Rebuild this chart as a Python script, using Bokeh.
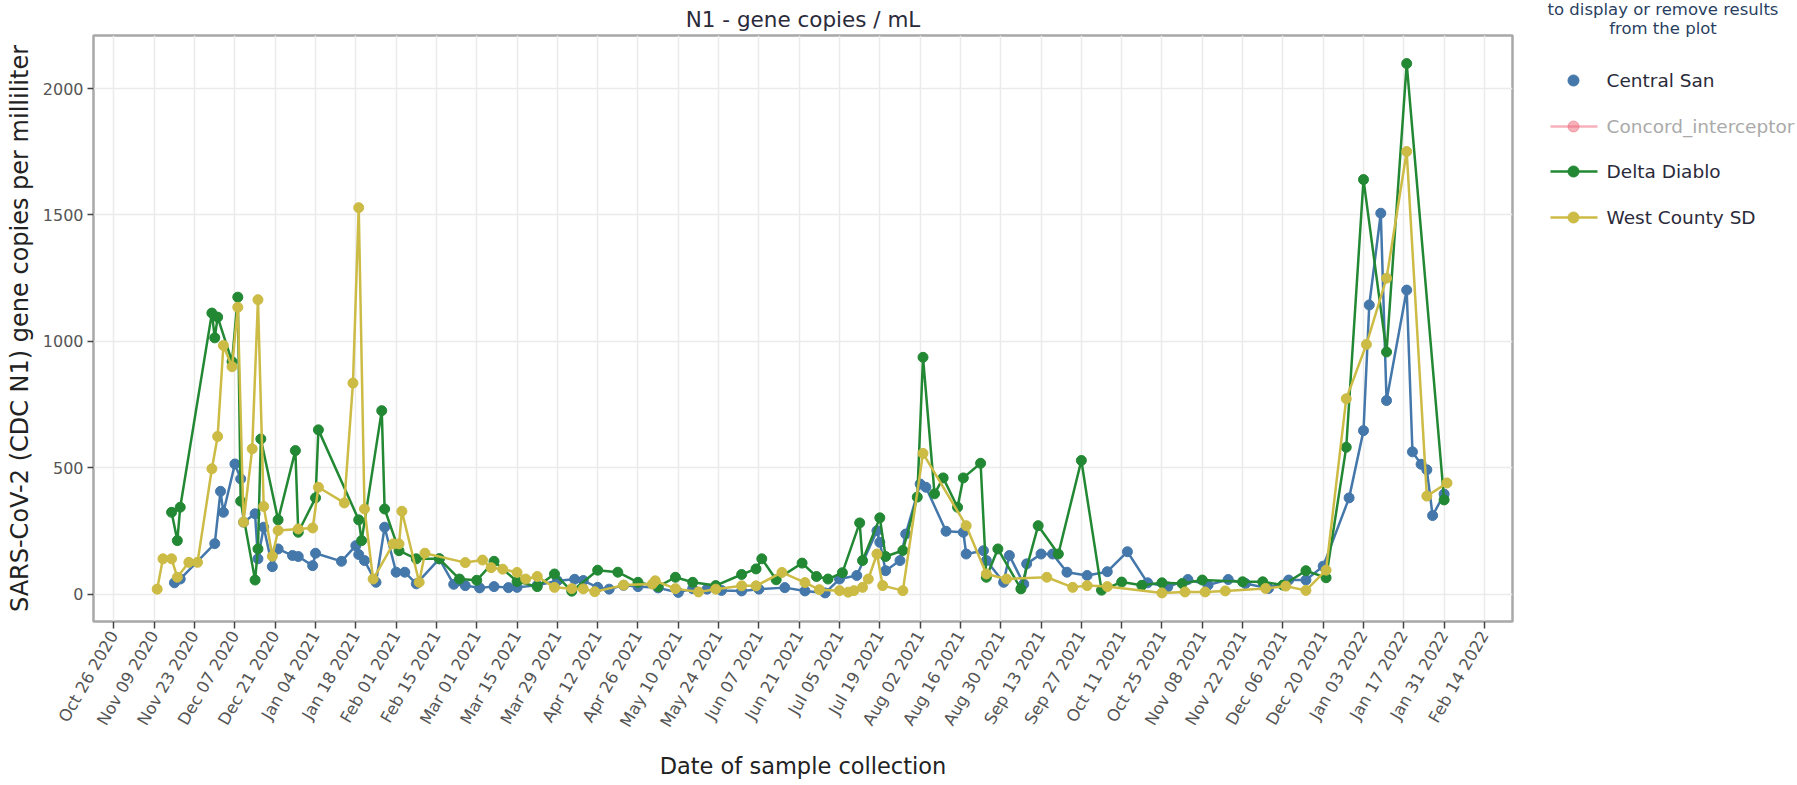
import pandas as pd
from bokeh.plotting import figure
from bokeh.models import Range1d, FixedTicker, DatetimeTickFormatter, ColumnDataSource, Div
from bokeh.layouts import row, column
from bokeh.embed import file_html
from bokeh.resources import INLINE
from bokeh.core.properties import value

# ---------------- data ----------------
central_dates = ["2020-11-16", "2020-11-18", "2020-11-30", "2020-12-02", "2020-12-03", "2020-12-07",
                 "2020-12-09", "2020-12-10", "2020-12-14", "2020-12-15", "2020-12-17", "2020-12-20",
                 "2020-12-22", "2020-12-27", "2020-12-29", "2021-01-03", "2021-01-04", "2021-01-13",
                 "2021-01-18", "2021-01-19", "2021-01-21", "2021-01-25", "2021-01-28", "2021-02-01",
                 "2021-02-04", "2021-02-08", "2021-02-16", "2021-02-21", "2021-02-25", "2021-03-02",
                 "2021-03-07", "2021-03-12", "2021-03-15", "2021-03-22", "2021-03-29", "2021-04-04",
                 "2021-04-07", "2021-04-12", "2021-04-16", "2021-04-21", "2021-04-26", "2021-05-03",
                 "2021-05-10", "2021-05-15", "2021-05-20", "2021-05-25", "2021-06-01", "2021-06-07",
                 "2021-06-16", "2021-06-23", "2021-06-30", "2021-07-05", "2021-07-11", "2021-07-18",
                 "2021-07-19", "2021-07-21", "2021-07-26", "2021-07-28", "2021-08-02", "2021-08-04",
                 "2021-08-11", "2021-08-17", "2021-08-18", "2021-08-24", "2021-08-25", "2021-08-31",
                 "2021-09-02", "2021-09-07", "2021-09-08", "2021-09-13", "2021-09-17", "2021-09-22",
                 "2021-09-29", "2021-10-06", "2021-10-13", "2021-10-20", "2021-10-27", "2021-11-03",
                 "2021-11-10", "2021-11-17", "2021-11-23", "2021-12-01", "2021-12-08", "2021-12-14",
                 "2021-12-20", "2021-12-29", "2022-01-03", "2022-01-05", "2022-01-09", "2022-01-11",
                 "2022-01-18", "2022-01-20", "2022-01-23", "2022-01-25", "2022-01-27", "2022-01-31"]
central_vals = [45, 60, 200, 407, 324, 515,
                456, 285, 318, 140, 265, 109,
                179, 153, 149, 113, 162, 130,
                192, 157, 133, 47, 265, 87,
                87, 41, 140, 39, 34, 25,
                30, 26, 27, 35, 53, 59,
                54, 27, 20, 35, 30, 25,
                7, 22, 20, 15, 13, 20,
                26, 13, 5, 60, 74, 251,
                205, 93, 133, 238, 436, 423,
                249, 245, 159, 172, 133, 47,
                153, 40, 120, 159, 159, 87,
                74, 89, 168, 45, 29, 58,
                36, 58, 42, 23, 56, 56,
                111, 381, 647, 1144, 1507, 766,
                1203, 563, 514, 492, 311, 396]

delta_dates = ["2020-11-15", "2020-11-17", "2020-11-18", "2020-11-29", "2020-11-30", "2020-12-01",
               "2020-12-06", "2020-12-08", "2020-12-09", "2020-12-14", "2020-12-15", "2020-12-16",
               "2020-12-22", "2020-12-28", "2020-12-29", "2021-01-04", "2021-01-05", "2021-01-19",
               "2021-01-20", "2021-01-27", "2021-01-28", "2021-02-02", "2021-02-08", "2021-02-16",
               "2021-02-23", "2021-03-01", "2021-03-07", "2021-03-15", "2021-03-22", "2021-03-28",
               "2021-04-03", "2021-04-12", "2021-04-19", "2021-04-26", "2021-05-03", "2021-05-09",
               "2021-05-15", "2021-05-23", "2021-06-01", "2021-06-06", "2021-06-08", "2021-06-13",
               "2021-06-22", "2021-06-27", "2021-07-01", "2021-07-06", "2021-07-12", "2021-07-13",
               "2021-07-19", "2021-07-21", "2021-07-27", "2021-08-01", "2021-08-03", "2021-08-07",
               "2021-08-10", "2021-08-15", "2021-08-17", "2021-08-23", "2021-08-25", "2021-08-29",
               "2021-09-06", "2021-09-12", "2021-09-19", "2021-09-27", "2021-10-04", "2021-10-11",
               "2021-10-18", "2021-10-25", "2021-11-01", "2021-11-08", "2021-11-22", "2021-11-29",
               "2021-12-06", "2021-12-14", "2021-12-21", "2021-12-28", "2022-01-03", "2022-01-11",
               "2022-01-18", "2022-01-31"]
delta_vals = [324, 212, 344, 1112, 1014, 1096,
              920, 1175, 368, 56, 179, 614,
              294, 568, 245, 381, 650, 294,
              212, 726, 337, 172, 140, 140,
              60, 55, 130, 50, 30, 80,
              12, 95, 87, 47, 30, 67,
              47, 34, 78, 100, 140, 57,
              123, 70, 60, 85, 282, 133,
              302, 149, 173, 384, 937, 397,
              460, 344, 460, 518, 67, 179,
              21, 271, 159, 529, 16, 48,
              35, 45, 42, 56, 49, 49,
              36, 93, 65, 581, 1640, 958,
              2099, 373]

west_dates = ["2020-11-10", "2020-11-12", "2020-11-15", "2020-11-17", "2020-11-21", "2020-11-24",
              "2020-11-29", "2020-12-01", "2020-12-03", "2020-12-06", "2020-12-08", "2020-12-10",
              "2020-12-13", "2020-12-15", "2020-12-17", "2020-12-20", "2020-12-22", "2020-12-29",
              "2021-01-03", "2021-01-05", "2021-01-14", "2021-01-17", "2021-01-19", "2021-01-21",
              "2021-01-24", "2021-01-31", "2021-02-02", "2021-02-03", "2021-02-09", "2021-02-11",
              "2021-02-25", "2021-03-03", "2021-03-06", "2021-03-10", "2021-03-15", "2021-03-18",
              "2021-03-22", "2021-03-28", "2021-04-03", "2021-04-07", "2021-04-11", "2021-04-21",
              "2021-05-01", "2021-05-02", "2021-05-09", "2021-05-17", "2021-05-23", "2021-06-01",
              "2021-06-06", "2021-06-15", "2021-06-23", "2021-06-28", "2021-07-05", "2021-07-08",
              "2021-07-10", "2021-07-13", "2021-07-15", "2021-07-18", "2021-07-20", "2021-07-27",
              "2021-08-03", "2021-08-18", "2021-08-25", "2021-09-01", "2021-09-15", "2021-09-24",
              "2021-09-29", "2021-10-06", "2021-10-25", "2021-11-02", "2021-11-09", "2021-11-16",
              "2021-11-30", "2021-12-07", "2021-12-14", "2021-12-21", "2021-12-28", "2022-01-04",
              "2022-01-11", "2022-01-18", "2022-01-25", "2022-02-01"]
west_vals = [20, 140, 140, 67, 126, 126,
             496, 624, 984, 900, 1135, 285,
             575, 1165, 347, 150, 252, 258,
             262, 423, 361, 835, 1529, 337,
             60, 199, 199, 328, 47, 162,
             125, 135, 105, 99, 86, 60,
             70, 27, 22, 21, 10, 36,
             40, 53, 22, 9, 20, 33,
             33, 86, 46, 18, 14, 8,
             14, 27, 60, 159, 34, 14,
             557, 271, 80, 60, 67, 27,
             34, 30, 5, 9, 9, 13,
             23, 32, 15, 95, 773, 988,
             1250, 1751, 388, 440]

tick_labels = ["Oct 26 2020", "Nov 09 2020", "Nov 23 2020", "Dec 07 2020", "Dec 21 2020",
               "Jan 04 2021", "Jan 18 2021", "Feb 01 2021", "Feb 15 2021", "Mar 01 2021",
               "Mar 15 2021", "Mar 29 2021", "Apr 12 2021", "Apr 26 2021", "May 10 2021",
               "May 24 2021", "Jun 07 2021", "Jun 21 2021", "Jul 05 2021", "Jul 19 2021",
               "Aug 02 2021", "Aug 16 2021", "Aug 30 2021", "Sep 13 2021", "Sep 27 2021",
               "Oct 11 2021", "Oct 25 2021", "Nov 08 2021", "Nov 22 2021", "Dec 06 2021",
               "Dec 20 2021", "Jan 03 2022", "Jan 17 2022", "Jan 31 2022", "Feb 14 2022"]
y_ticks = [0, 500, 1000, 1500, 2000]

series_names = ["Central San", "Concord_interceptor", "Delta Diablo", "West County SD"]
series_colors = ["#4477AA", "#EE6677", "#228833", "#CCBB44"]
legend_note = ["to display or remove results", "from the plot"]

FONT = "DejaVu Sans"
DAY = 86400000.0


def to_ms(strings, fmt=None):
    d = pd.to_datetime(strings, format=fmt)
    return [float(t.value // 10**6) for t in d]


tick_ms = to_ms(tick_labels, "%b %d %Y")
x0 = tick_ms[0] - 7.12 * DAY
x1 = tick_ms[0] + 485.75 * DAY

W1, W2, H = 1530, 266, 784
NOTE_H = 40
F_TOP, F_BOT, F_LEFT, F_RIGHT = 35, 621, 93, 1512

p = figure(width=W1, height=H, output_backend="svg", toolbar_location=None,
           x_range=Range1d(x0, x1), y_range=Range1d(-108, 2210),
           min_border_left=F_LEFT, min_border_right=W1 - F_RIGHT, min_border_top=F_TOP,
           min_border_bottom=H - F_BOT)

p.title.text = "N1 - gene copies / mL"
p.title.align = "center"
p.title.text_font = FONT
p.title.text_font_size = "21.5px"
p.title.text_font_style = "normal"
p.title.text_color = "#2a2a3a"
p.title.standoff = 7

p.outline_line_color = "#a8a8a8"
p.outline_line_width = 2.5

p.xaxis.ticker = FixedTicker(ticks=tick_ms)
fmt = "%b %d %Y"
p.xaxis.formatter = DatetimeTickFormatter(days=fmt, months=fmt, years=fmt, hours=fmt,
                                          minutes=fmt, seconds=fmt, milliseconds=fmt,
                                          minsec=fmt, hourmin=fmt)
p.yaxis.ticker = FixedTicker(ticks=y_ticks)

for ax in (p.xaxis[0], p.yaxis[0]):
    ax.axis_line_color = None
    ax.major_tick_line_color = "#444444"
    ax.major_tick_line_width = 1.5
    ax.major_tick_in = 0
    ax.minor_tick_line_color = None
    ax.major_label_text_font = FONT
    ax.major_label_text_color = "#555555"
    ax.axis_label_text_font = FONT
    ax.axis_label_text_font_style = "normal"
    ax.axis_label_text_color = "#222222"

p.xaxis.major_label_text_font_size = "16.5px"
p.yaxis.major_label_text_font_size = "16px"
p.xaxis.axis_label_text_font_size = "22.5px"
p.yaxis.axis_label_text_font_size = "24px"
p.xaxis.major_tick_out = 7
p.yaxis.major_tick_out = 6
p.xaxis.major_label_orientation = 1.0472
p.xaxis.major_label_standoff = 4
p.yaxis.major_label_standoff = 4
p.xaxis.axis_label = "Date of sample collection"
p.xaxis.axis_label_standoff = 15
p.yaxis.axis_label = "SARS-CoV-2 (CDC N1) gene copies per milliliter"
p.yaxis.axis_label_standoff = 6

p.xgrid.grid_line_color = "#ebebeb"
p.ygrid.grid_line_color = "#ebebeb"
p.xgrid.grid_line_width = 1.5
p.ygrid.grid_line_width = 1.5

series = [(central_dates, central_vals, series_colors[0]),
          (delta_dates, delta_vals, series_colors[2]),
          (west_dates, west_vals, series_colors[3])]
for dates, vals, col in series:
    src = ColumnDataSource(dict(x=pd.to_datetime(dates), y=vals))
    p.line("x", "y", source=src, line_color=col, line_width=2.5)
    p.scatter("x", "y", source=src, size=10, fill_color=col, line_color=col)

# ---------------- legend panel ----------------
note_html = ("<div style=\"font-family:'DejaVu Sans'; font-size:16.5px; line-height:19px; "
             "color:#2a3f5f; text-align:center; width:%dpx;\">%s</div>"
             % (W2, "<br>".join(legend_note)))
note = Div(text=note_html, width=W2, height=NOTE_H, margin=0)

QH = H - NOTE_H
q = figure(width=W2, height=QH, output_backend="svg", toolbar_location=None,
           x_range=Range1d(0, W2), y_range=Range1d(H, NOTE_H),
           x_axis_location=None, y_axis_location=None,
           min_border=0, min_border_left=0, min_border_right=0,
           min_border_top=0, min_border_bottom=0)
q.outline_line_color = None
q.xgrid.visible = False
q.ygrid.visible = False

leg_y = [80, 126, 171, 217]
leg_alpha = [1.0, 0.5, 1.0, 1.0]
leg_line = [False, True, True, True]
for name, col, yy, a, has_line in zip(series_names, series_colors, leg_y, leg_alpha, leg_line):
    if has_line:
        q.line([20, 67], [yy, yy], line_color=col, line_width=2.5, line_alpha=a)
    q.scatter([43], [yy], size=11, fill_color=col, line_color=col, fill_alpha=a, line_alpha=a)

q.text(x=[76] * 4, y=leg_y, text=series_names,
       text_color=["#2a2a3a", "#aaaaaa", "#2a2a3a", "#2a2a3a"],
       text_font=value(FONT), text_font_size="18.5px",
       text_baseline="middle", text_align="left")

layout = row(p, column(note, q, spacing=0), spacing=0)
open("out.html", "w").write(file_html(layout, INLINE))
